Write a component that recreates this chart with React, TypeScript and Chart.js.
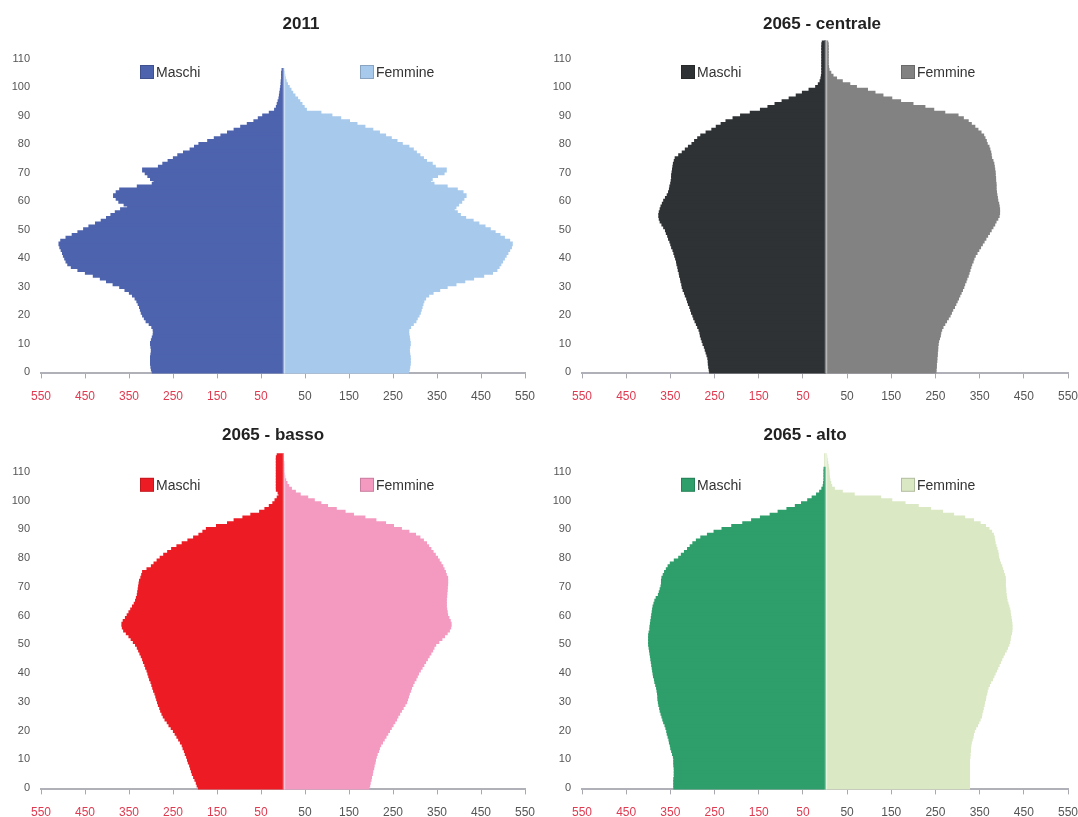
import React, { useEffect, useRef } from "react";
import { Chart, registerables } from "chart.js";

Chart.register(...registerables);
Chart.defaults.font.family = 'Arial, "Liberation Sans", sans-serif';

// Ages 0..116 (single years)
const AGES: string[] = Array.from({ length: 117 }, (_, i) => String(i));
const TITLES = ["2011", "2065 - centrale", "2065 - basso", "2065 - alto"];
const SERIES_NAMES = ["Maschi", "Femmine"];
const X_MIN = -550;
const X_MAX = 550;
const X_STEP = 100;
const Y_LABEL_STEP = 10;

// population by single age, thousands
const M_2011 = [
  296, 298, 299, 300, 300, 300, 299, 298, 298, 299,
  300, 298, 296, 294, 293, 294, 297, 303, 310, 314,
  318, 321, 323, 325, 328, 331, 335, 341, 348, 358,
  370, 385, 400, 414, 430, 448, 465, 480, 488, 492,
  495, 498, 500, 503, 506, 508, 504, 492, 478, 465,
  452, 440, 425, 412, 400, 390, 380, 368, 352, 360,
  372, 378, 384, 378, 370, 330, 296, 292, 300, 306,
  312, 318, 282, 272, 260, 248, 238, 225, 210, 200,
  190, 170, 155, 140, 125, 110, 95, 80, 65, 55,
  45, 30, 18, 14, 12, 10, 8, 7, 6, 5,
  4, 3, 3, 2, 2, 2, 1, 0, 0, 0,
  0, 0, 0, 0, 0, 0, 0,
];
const F_2011 = [
  284, 286, 287, 288, 288, 288, 287, 286, 286, 287,
  288, 287, 286, 285, 284, 285, 289, 295, 301, 304,
  308, 311, 313, 315, 317, 319, 323, 330, 340, 355,
  372, 392, 412, 432, 455, 475, 485, 490, 494, 498,
  502, 506, 510, 514, 518, 520, 514, 502, 492, 481,
  470, 458, 444, 431, 414, 402, 395, 388, 392, 398,
  405, 410, 415, 408, 395, 372, 342, 334, 338, 350,
  365, 370, 345, 338, 325, 318, 310, 302, 295, 285,
  270, 258, 245, 232, 218, 203, 185, 167, 150, 130,
  110, 85, 52, 47, 42, 37, 32, 26, 21, 17,
  13, 9, 6, 4, 3, 2, 1, 0, 0, 0,
  0, 0, 0, 0, 0, 0, 0,
];
const M_CENTRALE = [
  260, 261, 262, 263, 263, 264, 266, 268, 270, 272,
  275, 277, 279, 281, 282, 284, 287, 290, 293, 296,
  298, 301, 303, 305, 308, 310, 312, 315, 317, 320,
  322, 323, 325, 326, 328, 329, 331, 332, 334, 335,
  337, 339, 341, 343, 346, 348, 350, 353, 355, 358,
  360, 364, 368, 372, 374, 375, 374, 372, 370, 367,
  364, 360, 356, 353, 351, 350, 348, 347, 346, 346,
  345, 344, 343, 342, 340, 338, 330, 322, 315, 308,
  300, 294, 287, 280, 268, 255, 245, 234, 223, 207,
  190, 168, 145, 128, 112, 96, 80, 64, 50, 35,
  20, 14, 10, 8, 7, 6, 6, 6, 6, 6,
  6, 6, 6, 6, 6, 6, 5,
];
const F_CENTRALE = [
  250, 250, 251, 251, 252, 252, 253, 253, 254, 254,
  255, 256, 258, 260, 261, 263, 266, 270, 274, 278,
  282, 285, 288, 292, 295, 298, 301, 304, 307, 310,
  313, 315, 318, 320, 323, 325, 327, 329, 331, 334,
  336, 339, 343, 347, 351, 355, 359, 363, 367, 371,
  375, 379, 383, 386, 390, 393, 394, 394, 393, 392,
  390, 389, 388, 387, 386, 386, 386, 385, 385, 384,
  384, 383, 382, 381, 379, 376, 375, 374, 372, 370,
  366, 364, 361, 358, 352, 345, 338, 330, 323, 312,
  300, 270, 245, 225, 198, 170, 150, 130, 112, 95,
  70, 55, 38, 25, 17, 12, 8, 7, 6, 6,
  6, 6, 6, 6, 6, 6, 5,
];
const M_BASSO = [
  191, 194, 196, 199, 202, 205, 207, 209, 211, 214,
  216, 218, 221, 223, 226, 228, 232, 236, 240, 244,
  248, 253, 258, 262, 267, 271, 274, 277, 279, 282,
  284, 286, 288, 290, 293, 295, 297, 299, 302, 304,
  306, 308, 311, 313, 316, 318, 321, 324, 327, 330,
  334, 339, 344, 349, 355, 361, 364, 365, 362, 357,
  353, 349, 345, 341, 337, 334, 332, 330, 329, 328,
  327, 326, 325, 322, 320, 318, 308, 298, 292, 285,
  278, 270, 261, 252, 240, 228, 215, 202, 190, 181,
  173, 150, 125, 110, 90, 72, 52, 40, 30, 22,
  17, 12, 8, 10, 14, 14, 14, 14, 14, 14,
  14, 14, 14, 14, 14, 14, 12,
];
const F_BASSO = [
  194, 196, 197, 199, 200, 202, 203, 205, 206, 208,
  209, 211, 213, 216, 218, 221, 225, 229, 233, 237,
  241, 245, 249, 253, 257, 260, 264, 268, 272, 276,
  280, 282, 284, 286, 289, 291, 294, 297, 301, 304,
  307, 311, 315, 319, 323, 327, 331, 335, 339, 342,
  346, 353, 360, 366, 372, 377, 380, 381, 379, 376,
  373, 372, 371, 370, 370, 370, 370, 371, 371, 372,
  372, 373, 373, 373, 370, 368, 365, 362, 358, 354,
  350, 345, 340, 335, 330, 325, 318, 310, 300, 285,
  268, 250, 232, 210, 185, 159, 140, 120, 100, 85,
  70, 55, 38, 27, 18, 12, 8, 5, 3, 2,
  1, 1, 1, 1, 0, 0, 0,
];
const M_ALTO = [
  341, 341, 341, 341, 340, 340, 340, 340, 341, 341,
  341, 342, 344, 346, 348, 349, 351, 352, 354, 356,
  357, 359, 361, 364, 366, 368, 370, 372, 373, 375,
  376, 377, 377, 378, 379, 380, 382, 384, 385, 387,
  388, 389, 390, 391, 392, 393, 394, 395, 396, 397,
  398, 398, 398, 398, 397, 395, 395, 394, 393, 392,
  391, 390, 389, 388, 386, 384, 381, 376, 374, 372,
  370, 369, 369, 368, 365, 362, 358, 354, 349, 340,
  330, 324, 317, 310, 304, 298, 290, 280, 265, 250,
  232, 210, 185, 165, 145, 123, 105, 85, 66, 52,
  38, 28, 18, 11, 6, 3, 2, 1, 1, 1,
  1, 1, 0, 0, 0, 0, 0,
];
const F_ALTO = [
  326, 326, 326, 326, 326, 326, 326, 326, 326, 326,
  326, 327, 327, 328, 328, 329, 330, 332, 334, 335,
  337, 340, 344, 347, 350, 353, 354, 356, 357, 359,
  360, 362, 363, 365, 366, 368, 371, 374, 378, 381,
  384, 387, 390, 393, 396, 399, 402, 405, 409, 412,
  415, 417, 418, 419, 421, 422, 422, 422, 421, 420,
  419, 418, 417, 415, 413, 411, 410, 409, 408, 408,
  407, 407, 407, 407, 405, 403, 401, 399, 396, 394,
  392, 391, 390, 388, 386, 384, 383, 382, 380, 376,
  370, 362, 350, 335, 315, 290, 265, 238, 210, 180,
  150, 125, 65, 38, 20, 14, 12, 10, 9, 8,
  8, 7, 6, 5, 4, 3, 2,
];

const RED_TICK = "#df3a50";
const DARK_TICK = "#555555";

type Panel = {
  title: string;
  male: number[];
  female: number[];
  maleColor: string;
  femaleColor: string;
  left: number;
  top: number;
  width: number;
  height: number;
  yWidth: number;
  padRight: number;
  areaTop: number;
  xHeight: number;
  titleX: number;
  titleY: number;
};

const PANELS: Panel[] = [
  {
    title: TITLES[0], male: M_2011, female: F_2011,
    maleColor: "#4d63ae", femaleColor: "#a6c9ec",
    left: 0, top: 0, width: 560, height: 410,
    yWidth: 41, padRight: 35, areaTop: 40.5, xHeight: 36.6,
    titleX: 301, titleY: 24,
  },
  {
    title: TITLES[1], male: M_CENTRALE, female: F_CENTRALE,
    maleColor: "#2e3234", femaleColor: "#828282",
    left: 539, top: 0, width: 560, height: 410,
    yWidth: 43, padRight: 31, areaTop: 40.5, xHeight: 36.6,
    titleX: 822 - 539, titleY: 24,
  },
  {
    title: TITLES[2], male: M_BASSO, female: F_BASSO,
    maleColor: "#ed1c24", femaleColor: "#f49ac1",
    left: 0, top: 415, width: 560, height: 402,
    yWidth: 41, padRight: 35, areaTop: 38.3, xHeight: 27.6,
    titleX: 273, titleY: 20.5,
  },
  {
    title: TITLES[3], male: M_ALTO, female: F_ALTO,
    maleColor: "#2e9e6a", femaleColor: "#dae8c4",
    left: 539, top: 415, width: 560, height: 402,
    yWidth: 43, padRight: 31, areaTop: 38.3, xHeight: 27.6,
    titleX: 805 - 539, titleY: 20.5,
  },
];

function Pyramid({ p }: { p: Panel }) {
  const ref = useRef<HTMLCanvasElement>(null);
  useEffect(() => {
    const decor = {
      id: "decor",
      afterDatasetsDraw(chart: any) {
        const { ctx, chartArea, scales } = chart;
        const x0 = scales.x.getPixelForValue(0) + 1;
        ctx.save();
        ctx.strokeStyle = "rgba(255,255,255,0.42)";
        ctx.lineWidth = 2.5;
        ctx.beginPath();
        ctx.moveTo(x0, chartArea.top);
        ctx.lineTo(x0, chartArea.bottom);
        ctx.stroke();
        ctx.restore();
      },
      afterDraw(chart: any) {
        const { ctx, chartArea } = chart;
        ctx.save();
        // title
        ctx.fillStyle = "#222";
        ctx.font = 'bold 17px Arial, "Liberation Sans", sans-serif';
        ctx.textAlign = "center";
        ctx.textBaseline = "middle";
        ctx.fillText(p.title, p.titleX, p.titleY);
        // legend
        const ly = chartArea.top + 31.5;
        const items = [
          { label: SERIES_NAMES[0], color: p.maleColor, dx: 99 },
          { label: SERIES_NAMES[1], color: p.femaleColor, dx: 319 },
        ];
        ctx.font = '14px Arial, "Liberation Sans", sans-serif';
        ctx.textAlign = "left";
        items.forEach((it) => {
          const x = chartArea.left + it.dx;
          ctx.fillStyle = it.color;
          ctx.fillRect(x, ly - 7, 14, 14);
          ctx.strokeStyle = "rgba(0,0,0,0.18)";
          ctx.lineWidth = 1;
          ctx.strokeRect(x + 0.5, ly - 6.5, 13, 13);
          ctx.fillStyle = "#333";
          ctx.fillText(it.label, x + 16, ly + 1);
        });
        ctx.restore();
      },
    };

    const chart = new Chart(ref.current as HTMLCanvasElement, {
      type: "bar",
      data: {
        labels: AGES,
        datasets: [
          {
            label: SERIES_NAMES[0],
            data: p.male.map((v) => (v === 0 ? null : -v)),
            backgroundColor: p.maleColor,
            borderWidth: 0,
            barPercentage: 1,
            categoryPercentage: 1,
            inflateAmount: 1,
          },
          {
            label: SERIES_NAMES[1],
            data: p.female.map((v) => (v === 0 ? null : v)),
            backgroundColor: p.femaleColor,
            borderWidth: 0,
            barPercentage: 1,
            categoryPercentage: 1,
            inflateAmount: 1,
          },
        ],
      },
      options: {
        indexAxis: "y",
        responsive: false,
        animation: false,
        events: [],
        layout: { padding: { left: 0, right: p.padRight, top: p.areaTop, bottom: 0 } },
        plugins: {
          legend: { display: false },
          title: { display: false },
          tooltip: { enabled: false },
        },
        scales: {
          x: {
            type: "linear",
            stacked: true,
            min: X_MIN,
            max: X_MAX,
            afterFit: (s: any) => { s.height = p.xHeight; },
            grid: {
              display: true,
              drawOnChartArea: false,
              drawTicks: true,
              tickLength: 5,
              color: "#a8a8b0",
            },
            border: { display: true, color: "#b0b0b8", width: 2 },
            ticks: {
              stepSize: X_STEP,
              padding: 11,
              maxRotation: 0,
              autoSkip: false,
              font: { size: 12 },
              color: (c: any) => (c.tick && c.tick.value < 0 ? RED_TICK : DARK_TICK),
              callback: (v: any) => String(Math.abs(Number(v))),
            },
          },
          y: {
            type: "category",
            stacked: true,
            reverse: true,
            afterFit: (s: any) => { s.width = p.yWidth; },
            grid: { display: false, drawTicks: false },
            border: { display: false },
            ticks: {
              autoSkip: false,
              padding: 11,
              font: { size: 11 },
              color: "#555",
              callback: (_v: any, i: number) => (i % Y_LABEL_STEP === 0 ? AGES[i] : null),
            },
          },
        },
      },
      plugins: [decor],
    } as any);
    return () => chart.destroy();
  }, [p]);
  return (
    <canvas
      ref={ref}
      width={p.width}
      height={p.height}
      style={{ position: "absolute", left: p.left, top: p.top, width: p.width, height: p.height }}
    />
  );
}

export default function App() {
  return (
    <div
      style={{
        position: "fixed",
        left: 0,
        top: 0,
        width: 1078,
        height: 817,
        overflow: "hidden",
        background: "#ffffff",
      }}
    >
      {PANELS.map((p) => (
        <Pyramid key={p.title} p={p} />
      ))}
    </div>
  );
}
